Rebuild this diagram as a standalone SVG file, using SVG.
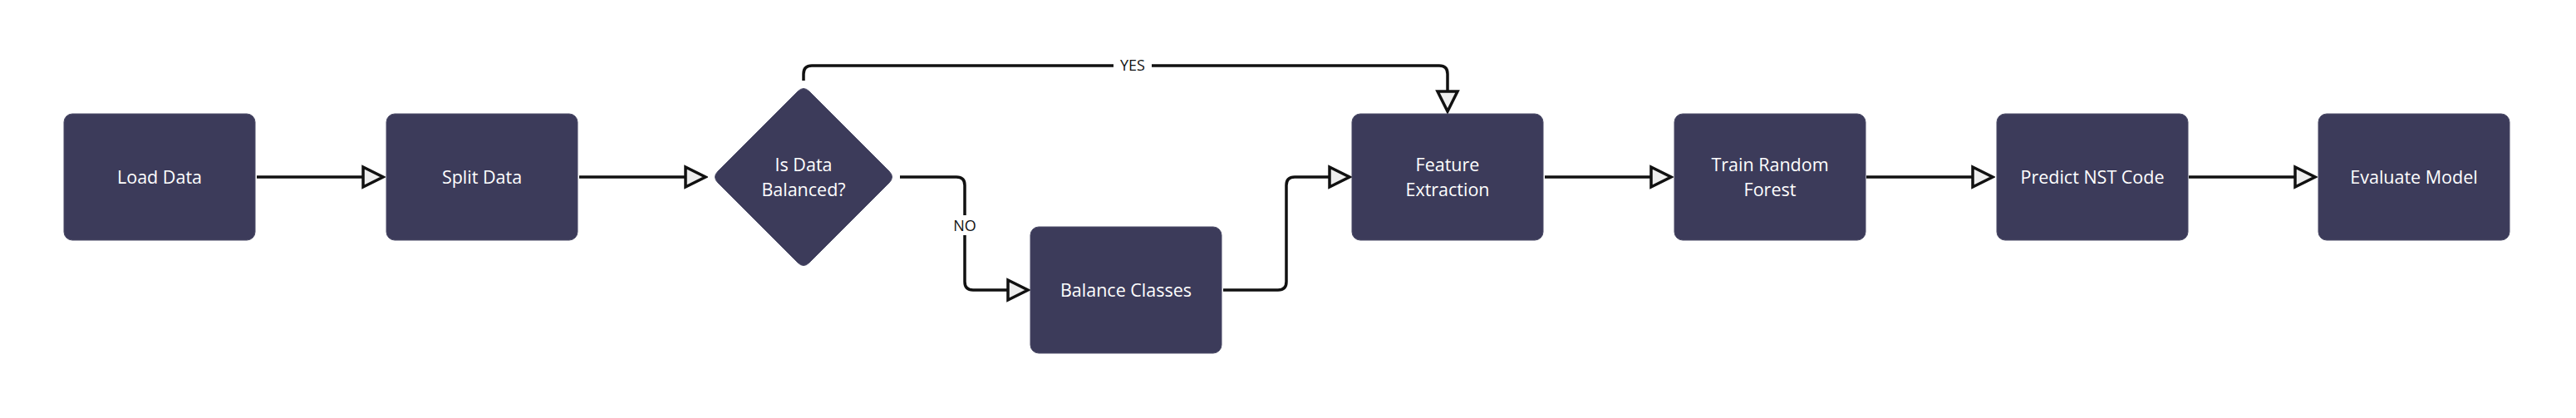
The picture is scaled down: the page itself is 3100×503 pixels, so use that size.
<svg xmlns="http://www.w3.org/2000/svg" width="3100" height="503" viewBox="0 0 3100 503">
<style>
.n{fill:#3c3b5a;stroke:#4a4a66;stroke-width:1}
.t{font-family:"Open Sans","Noto Sans",sans-serif;font-size:21.5px;fill:#ffffff;text-anchor:middle}
.c{fill:none;stroke:#111111;stroke-width:3.5;marker-end:url(#arr)}
.l{font-family:"Open Sans","Noto Sans",sans-serif;font-size:18px;fill:#111111;text-anchor:middle}
</style>
<defs>
<marker id="arr" markerUnits="userSpaceOnUse" markerWidth="30" markerHeight="30" viewBox="-3 -3 30 30" refX="24" refY="12" orient="auto">
<path d="M0,0 L24,12 L0,24 Z" fill="#eeeeee" stroke="#111111" stroke-width="3.5" stroke-linejoin="miter"/>
</marker>
</defs>
<rect width="3100" height="503" fill="#ffffff"/>
<g id="connectors">
<path class="c" d="M309,213 L461,213"/>
<path class="c" d="M697,213 L849,213"/>
<path class="c" d="M1083,213 L1151,213 Q1161,213 1161,223 L1161,339 Q1161,349 1171,349 L1237,349"/>
<path class="c" d="M1472,349 L1538,349 Q1548,349 1548,339 L1548,223 Q1548,213 1558,213 L1624,213"/>
<path class="c" d="M967,97 L967,89 Q967,79 977,79 L1732,79 Q1742,79 1742,89 L1742,134"/>
<path class="c" d="M1859,213 L2011,213"/>
<path class="c" d="M2246,213 L2398,213"/>
<path class="c" d="M2634,213 L2786,213"/>
<rect x="1340" y="68" width="46" height="22" fill="#ffffff"/>
<text class="l" x="1363" y="85">YES</text>
<rect x="1146" y="259" width="30" height="24" fill="#ffffff"/>
<text class="l" x="1161" y="278">NO</text>
</g>
<g id="load-data"><rect class="n" x="77" y="137" width="230" height="152" rx="10"/><text class="t" x="192" y="220.5">Load Data</text></g>
<g id="split-data"><rect class="n" x="465" y="137" width="230" height="152" rx="10"/><text class="t" x="580" y="220.5">Split Data</text></g>
<g id="is-data-balanced"><path class="n" d="M960,110 Q967,103 974,110 L1070,206 Q1077,213 1070,220 L974,316 Q967,323 960,316 L864,220 Q857,213 864,206 Z"/><text class="t" x="967" y="205.5">Is Data</text><text class="t" x="967" y="235.5">Balanced?</text></g>
<g id="balance-classes"><rect class="n" x="1240" y="273" width="230" height="152" rx="10"/><text class="t" x="1355" y="356.5">Balance Classes</text></g>
<g id="feature-extraction"><rect class="n" x="1627" y="137" width="230" height="152" rx="10"/><text class="t" x="1742" y="205.5">Feature</text><text class="t" x="1742" y="235.5">Extraction</text></g>
<g id="train-random-forest"><rect class="n" x="2015" y="137" width="230" height="152" rx="10"/><text class="t" x="2130" y="205.5">Train Random</text><text class="t" x="2130" y="235.5">Forest</text></g>
<g id="predict-nst-code"><rect class="n" x="2403" y="137" width="230" height="152" rx="10"/><text class="t" x="2518" y="220.5">Predict NST Code</text></g>
<g id="evaluate-model"><rect class="n" x="2790" y="137" width="230" height="152" rx="10"/><text class="t" x="2905" y="220.5">Evaluate Model</text></g>
</svg>
